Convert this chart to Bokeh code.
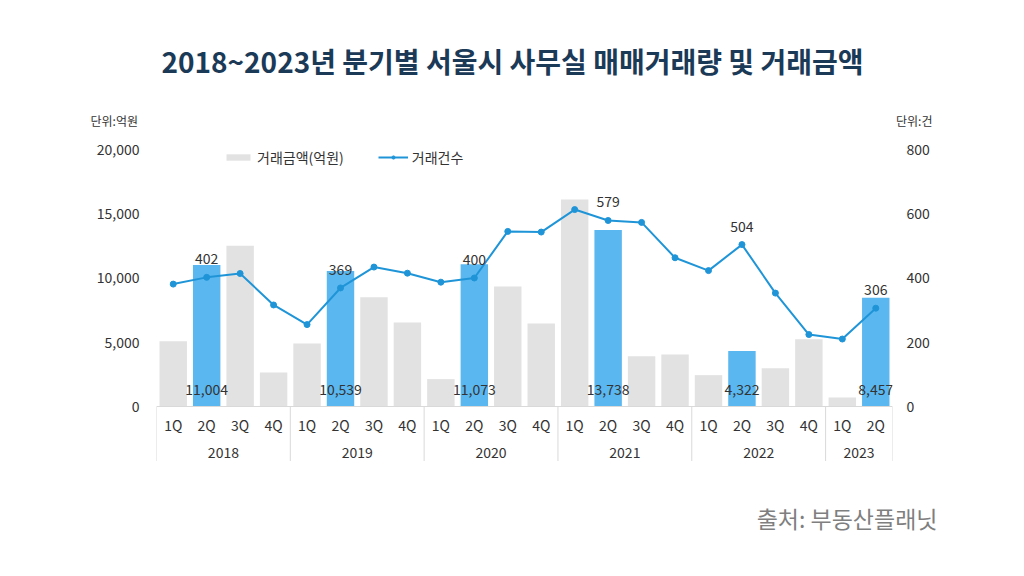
from bokeh.plotting import figure
from bokeh.models import (Range1d, LinearAxis, FixedTicker, NumeralTickFormatter,
                          ColumnDataSource, Legend, LegendItem)
from bokeh.layouts import column
from bokeh.core.properties import value
from bokeh.embed import file_html
from bokeh.resources import INLINE

# ---------------- data ----------------
years = ["2018", "2019", "2020", "2021", "2022", "2023"]
quarters_per_year = [4, 4, 4, 4, 4, 2]
quarters = ["1Q", "2Q", "3Q", "4Q"] * 5 + ["1Q", "2Q"]
amount = [5080, 11004, 12500, 2650,
          4900, 10539, 8500, 6540,
          2130, 11073, 9340, 6460,
          16100, 13738, 3920, 4050,
          2440, 4322, 2980, 5240,
          700, 8457]
count = [381, 402, 414, 316,
         255, 369, 434, 415,
         387, 400, 545, 543,
         613, 579, 573, 463,
         423, 504, 353, 224,
         210, 306]
left_ticks = [0, 5000, 10000, 15000, 20000]
right_ticks = [0, 200, 400, 600, 800]

title_text = "2018~2023년 분기별 서울시 사무실 매매거래량 및 거래금액"
source_text = "출처: 부동산플래닛"
legend_amount = "거래금액(억원)"
legend_count = "거래건수"
unit_left = "단위:억원"
unit_right = "단위:건"

# ---------------- styles ----------------
FONT = "Noto Sans CJK KR"
GRAY = "#e2e2e2"
BLUE = "#5ab7f0"
LINE = "#1f95d8"
TXT = "#333333"
AXC = "#d9d9d9"

W = 1008
HEAD_H = 130
FL, FT, FR, FB = 156, 140, 892, 461   # main frame edges (page px)
FOOT_H = 99
Y0, Y1 = -4280, 20700
R0, R1 = Y0 / 25.0, Y1 / 25.0


def no_align(f):
    try:
        f.frame_align = False
    except Exception:
        pass


def blank(height):
    f = figure(width=W, height=height, output_backend="svg", toolbar_location=None,
               x_range=Range1d(0, W), y_range=Range1d(height, 0),
               x_axis_location=None, y_axis_location=None,
               min_border=0, min_border_left=0, min_border_right=0,
               min_border_top=0, min_border_bottom=0)
    f.grid.visible = False
    f.outline_line_color = None
    f.background_fill_color = "white"
    f.border_fill_color = "white"
    no_align(f)
    return f


# ---------------- header ----------------
head = blank(HEAD_H)
head.text(x=[512], y=[60], text=[title_text], text_align="center", text_baseline="middle",
          text_font=value(FONT), text_font_size="28px", text_font_style="bold",
          text_color="#1b3a57")
head.text(x=[90], y=[120], text=[unit_left], text_align="left", text_baseline="middle",
          text_font=value(FONT), text_font_size="12px", text_color=TXT)
head.text(x=[932], y=[120], text=[unit_right], text_align="right", text_baseline="middle",
          text_font=value(FONT), text_font_size="12px", text_color=TXT)

# ---------------- main chart ----------------
n = len(quarters)
xs = [i + 0.5 for i in range(n)]
colors = [BLUE if q == "2Q" else GRAY for q in quarters]
src = ColumnDataSource(dict(x=xs, amount=amount, count=count, q=quarters, color=colors))

hl = [i for i, q in enumerate(quarters) if q == "2Q"]
hl_src = ColumnDataSource(dict(
    x=[xs[i] for i in hl],
    count=[count[i] for i in hl],
    amount_txt=[f"{amount[i]:,}" for i in hl],
    count_txt=[str(count[i]) for i in hl],
    zero=[0] * len(hl),
))

p = figure(width=W, height=FB - HEAD_H, output_backend="svg", toolbar_location=None,
           x_range=Range1d(0, n), y_range=Range1d(Y0, Y1),
           x_axis_location=None,
           min_border_left=FL, min_border_right=W - FR,
           min_border_top=FT - HEAD_H, min_border_bottom=0)
no_align(p)
p.extra_y_ranges = {"cnt": Range1d(R0, R1)}
p.grid.visible = False
p.outline_line_color = None
p.background_fill_color = "white"
p.border_fill_color = "white"

ya = p.yaxis[0]
ya.ticker = FixedTicker(ticks=left_ticks)
ya.formatter = NumeralTickFormatter(format="0,0")

ra = LinearAxis(y_range_name="cnt", ticker=FixedTicker(ticks=right_ticks))
p.add_layout(ra, "right")

for ax, standoff in ((ya, 17), (ra, 14)):
    ax.axis_line_color = None
    ax.major_tick_line_color = None
    ax.minor_tick_line_color = None
    ax.major_tick_in = 0
    ax.major_tick_out = 0
    ax.major_label_standoff = standoff
    ax.major_label_text_font = FONT
    ax.major_label_text_font_size = "14px"
    ax.major_label_text_color = TXT

bars = p.vbar(x="x", top="amount", bottom=0, width=0.82, fill_color="color",
              line_color=None, source=src)

# category axis lines
p.segment(x0=[0], y0=[0], x1=[n], y1=[0], line_color=AXC, line_width=1)
bounds = [0]
for k in quarters_per_year:
    bounds.append(bounds[-1] + k)
p.segment(x0=bounds, y0=[0] * len(bounds), x1=bounds, y1=[Y0] * len(bounds),
          line_color=AXC, line_width=1)

p.text(x="x", y=0, text="q", source=src, text_align="center", text_baseline="middle",
       y_offset=18, text_font=value(FONT), text_font_size="14px", text_color=TXT)
year_x = [(bounds[i] + bounds[i + 1]) / 2 for i in range(len(years))]
p.text(x=year_x, y=[0] * len(years), text=years, text_align="center",
       text_baseline="middle", y_offset=46, text_font=value(FONT),
       text_font_size="14px", text_color=TXT)

ln = p.line(x="x", y="count", source=src, y_range_name="cnt", line_color=LINE, line_width=2)
sc = p.scatter(x="x", y="count", source=src, y_range_name="cnt", size=6,
               fill_color=LINE, line_color=LINE)

p.text(x="x", y="zero", text="amount_txt", source=hl_src, text_align="center",
       text_baseline="middle", y_offset=-17, text_font=value(FONT),
       text_font_size="14px", text_color=TXT)
p.text(x="x", y="count", text="count_txt", source=hl_src, y_range_name="cnt",
       text_align="center", text_baseline="bottom", y_offset=-13,
       text_font=value(FONT), text_font_size="14px", text_color=TXT)

fh = FB - FT
legend = Legend(items=[LegendItem(label=legend_amount, renderers=[bars], index=0),
                       LegendItem(label=legend_count, renderers=[ln, sc])],
                orientation="horizontal", location=(223 - FL, fh - 7 - 20),
                padding=0, margin=0, spacing=34, glyph_width=30, glyph_height=8,
                label_standoff=4, label_text_font=FONT, label_text_font_size="14px",
                label_text_color=TXT, border_line_color=None,
                background_fill_alpha=0)
p.add_layout(legend, "center")

# ---------------- footer ----------------
foot = blank(FOOT_H)
foot.text(x=[937], y=[517 - FB], text=[source_text], text_align="right",
          text_baseline="middle", text_font=value(FONT), text_font_size="23px",
          text_color="#7f7f7f")

layout = column(head, p, foot, spacing=0)
open("out.html", "w").write(file_html(layout, INLINE))
